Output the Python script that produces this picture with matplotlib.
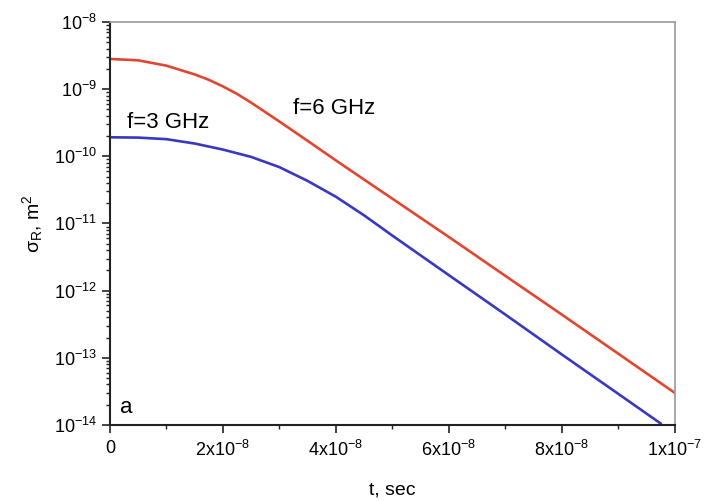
import matplotlib.pyplot as plt
import matplotlib.ticker as mticker
import numpy as np

plt.rcParams['font.family'] = ['Liberation Sans', 'DejaVu Sans']
plt.rcParams['mathtext.fontset'] = 'custom'
plt.rcParams['mathtext.rm'] = 'Liberation Sans'
plt.rcParams['mathtext.it'] = 'Liberation Sans:italic'

# time, s  /  radar cross-section, m^2
t_6ghz = [0, 0.5e-8, 1.0e-8, 1.5e-8, 1.75e-8, 2.0e-8, 2.25e-8, 2.5e-8, 3.0e-8,
          3.5e-8, 4.0e-8, 4.5e-8, 5.0e-8, 6.0e-8, 7.0e-8, 8.0e-8, 9.0e-8, 1.0e-7]
sigma_6ghz = [2.82e-9, 2.69e-9, 2.24e-9, 1.66e-9, 1.38e-9, 1.10e-9, 8.5e-10, 6.3e-10,
              3.3e-10, 1.7e-10, 8.7e-11, 4.5e-11, 2.34e-11, 6.3e-12, 1.66e-12,
              4.4e-13, 1.15e-13, 3.0e-14]

t_3ghz = [0, 0.5e-8, 1.0e-8, 1.5e-8, 2.0e-8, 2.5e-8, 3.0e-8, 3.5e-8, 4.0e-8,
          4.5e-8, 5.0e-8, 6.0e-8, 7.0e-8, 8.0e-8, 9.0e-8, 9.75e-8]
sigma_3ghz = [1.92e-10, 1.90e-10, 1.80e-10, 1.55e-10, 1.26e-10, 9.8e-11, 6.9e-11,
              4.3e-11, 2.5e-11, 1.32e-11, 6.6e-12, 1.70e-12, 4.4e-13, 1.12e-13,
              2.9e-14, 1.05e-14]

xticks = [0, 2e-8, 4e-8, 6e-8, 8e-8, 1e-7]
xticklabels = ['0', '2x10$^{-8}$', '4x10$^{-8}$', '6x10$^{-8}$', '8x10$^{-8}$', '1x10$^{-7}$']
yexps = [-14, -13, -12, -11, -10, -9, -8]

fig = plt.figure(figsize=(7.05, 5.01), dpi=100)
ax = fig.add_axes([0.156, 0.152, 0.801, 0.804])

ax.plot(t_6ghz, sigma_6ghz, color='#e3462f', lw=1.9)
ax.plot(t_3ghz, sigma_3ghz, color='#3838c2', lw=1.9)

ax.set_yscale('log')
ax.set_xlim(0, 1e-7)
ax.set_ylim(1e-14, 1e-8)

ax.set_xticks(xticks)
ax.set_xticklabels(xticklabels)
ax.xaxis.set_minor_locator(mticker.MultipleLocator(1e-8))

ax.set_yticks([10.0 ** e for e in yexps])
ax.set_yticklabels(['10$^{%d}$' % e for e in yexps])
yminor = [m * 10.0 ** e for e in yexps[:-1] for m in range(2, 10)]
ax.set_yticks(yminor, minor=True)
ax.yaxis.set_minor_formatter(mticker.NullFormatter())

ax.tick_params(which='major', direction='out', length=6, width=1.2, labelsize=13, color='#222222')
ax.tick_params(which='minor', direction='out', length=3, width=1.0, color='#222222')
ax.tick_params(axis='x', pad=5)

for s in ['left', 'bottom']:
    ax.spines[s].set_linewidth(1.5)
    ax.spines[s].set_color('#222222')
for s in ['top', 'right']:
    ax.spines[s].set_linewidth(1.2)
    ax.spines[s].set_color('#9a9a9a')

ax.set_xlabel('t, sec', fontsize=14, labelpad=15)
ax.set_ylabel('σ$_{\\rm R}$, m$^{2}$', fontsize=14, labelpad=6)

ax.text(0.3e-8, 3.24e-10, 'f=3 GHz', fontsize=16, va='center')
ax.text(3.24e-8, 5.07e-10, 'f=6 GHz', fontsize=16, va='center')
ax.text(0.18e-8, 1.79e-14, 'a', fontsize=16, va='center')

fig.savefig('out.png', dpi=100)
